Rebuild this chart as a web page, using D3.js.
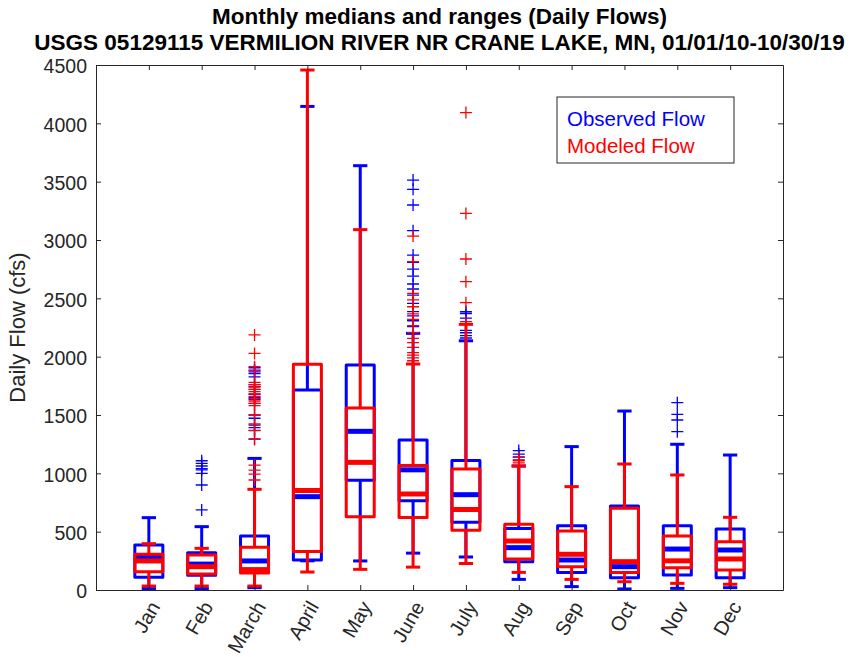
<!DOCTYPE html>
<html>
<head>
<meta charset="utf-8">
<script src="https://cdn.jsdelivr.net/npm/d3@7/dist/d3.min.js"></script>
<style>
  html, body { margin: 0; padding: 0; background: #fff; }
  svg { display: block; font-family: "Liberation Sans", Arial, Helvetica, sans-serif; }
</style>
</head>
<body>
<svg id="chart" width="860" height="657"></svg>
<script>
// Month categories
const months = ["Jan", "Feb", "March", "April", "May", "June", "July", "Aug", "Sep", "Oct", "Nov", "Dec"];

// Observed flow box statistics (cfs)
const obsLow    = [12, 12, 20, 250, 249, 316, 283, 91, 29, 9, 14, 20];
const obsQ1     = [109, 127, 160, 257, 941, 764, 581, 243, 149, 106, 129, 106];
const obsMedian = [280, 222, 249, 800, 1360, 1030, 817, 363, 257, 200, 351, 343];
const obsQ3     = [386, 320, 462, 1714, 1929, 1286, 1109, 528, 551, 720, 551, 523];
const obsHigh   = [620, 543, 1128, 4145, 3637, 2200, 2136, 1063, 1229, 1534, 1249, 1157];
const obsOutliers = [
  [],
  [1108, 1086, 1063, 1040, 1029, 1000, 900, 686],
  [1905, 1885, 1870, 1855, 1826, 1760, 1743, 1720, 1678, 1650, 1634, 1600, 1500, 1472, 1413, 1391, 1369, 1295],
  [],
  [],
  [3514, 3434, 3300, 3080, 2871, 2808, 2750, 2691, 2623, 2580, 2528, 2457, 2386, 2350, 2308, 2257],
  [2385, 2370, 2330, 2225, 2205, 2180, 2160],
  [1195, 1165, 1140, 1115],
  [],
  [],
  [1606, 1506, 1457, 1357],
  []
];

// Modeled flow box statistics (cfs)
const modLow    = [34, 34, 34, 154, 177, 196, 227, 151, 91, 71, 57, 49];
const modQ1     = [157, 137, 145, 329, 628, 622, 513, 266, 200, 149, 190, 171];
const modMedian = [249, 200, 175, 853, 1094, 823, 690, 420, 306, 243, 250, 266];
const modQ3     = [306, 300, 366, 1935, 1561, 1068, 1038, 563, 506, 700, 463, 414];
const modHigh   = [397, 357, 863, 4457, 3089, 1937, 2277, 1063, 886, 1080, 986, 623];
const modOutliers = [
  [],
  [],
  [2186, 2028, 1914, 1880, 1780, 1760, 1740, 1720, 1700, 1680, 1660, 1640, 1620, 1600, 1580, 1500, 1423, 1366, 1291, 1071, 1028, 994, 943],
  [],
  [],
  [3034, 2814, 2543, 2486, 2428, 2366, 2320, 2266, 2206, 2157, 2120, 2080, 2034, 2014, 1990, 1965],
  [4092, 3228, 2837, 2643, 2463, 2300],
  [1137, 1108, 1090],
  [],
  [],
  [],
  []
];

// Axis ticks
const yTicks = [0, 500, 1000, 1500, 2000, 2500, 3000, 3500, 4000, 4500];

const svg = d3.select("#chart");
const plotLeft = 96, plotRight = 783, plotTop = 65, plotBottom = 590;
const axisColor = "#262626";

const x = d3.scaleLinear().domain([0, months.length + 1]).range([plotLeft, plotRight]);
const y = d3.scaleLinear().domain([0, 4500]).range([plotBottom, plotTop]);

const step = x(1) - x(0);
const boxHalf = step * 0.265;
const capHalf = step * 0.135;

// Titles
svg.append("text").attr("x", (plotLeft + plotRight) / 2).attr("y", 24)
  .attr("text-anchor", "middle").attr("font-weight", "bold").attr("font-size", 22.5)
  .attr("fill", "#000").text("Monthly medians and ranges (Daily Flows)");
svg.append("text").attr("x", (plotLeft + plotRight) / 2).attr("y", 50)
  .attr("text-anchor", "middle").attr("font-weight", "bold").attr("font-size", 22.5)
  .attr("fill", "#000").text("USGS 05129115 VERMILION RIVER NR CRANE LAKE, MN, 01/01/10-10/30/19");

// Plot frame background
svg.append("rect").attr("x", plotLeft).attr("y", plotTop)
  .attr("width", plotRight - plotLeft).attr("height", plotBottom - plotTop)
  .attr("fill", "#fff");

// Boxes
function drawSeries(color, low, q1, med, q3, high, outliers) {
  const g = svg.append("g");
  months.forEach((m, i) => {
    const cx = x(i + 1);
    // whiskers
    g.append("line").attr("x1", cx).attr("x2", cx).attr("y1", y(q3[i])).attr("y2", y(high[i]))
      .attr("stroke", color).attr("stroke-width", 3);
    g.append("line").attr("x1", cx).attr("x2", cx).attr("y1", y(q1[i])).attr("y2", y(low[i]))
      .attr("stroke", color).attr("stroke-width", 3);
    // caps
    [high[i], low[i]].forEach(v => {
      g.append("line").attr("x1", cx - capHalf).attr("x2", cx + capHalf).attr("y1", y(v)).attr("y2", y(v))
        .attr("stroke", color).attr("stroke-width", 3);
    });
    // box
    g.append("rect").attr("x", cx - boxHalf).attr("y", y(q3[i]))
      .attr("width", boxHalf * 2).attr("height", y(q1[i]) - y(q3[i]))
      .attr("fill", "none").attr("stroke", color).attr("stroke-width", 3)
      .attr("stroke-linejoin", "round");
    // median
    g.append("line").attr("x1", cx - boxHalf).attr("x2", cx + boxHalf).attr("y1", y(med[i])).attr("y2", y(med[i]))
      .attr("stroke", color).attr("stroke-width", 5);
    // outliers
    outliers[i].forEach(v => {
      const py = y(v);
      g.append("path").attr("d", `M${cx - 6},${py}H${cx + 6}M${cx},${py - 6}V${py + 6}`)
        .attr("stroke", color).attr("stroke-width", 1.3).attr("fill", "none");
    });
  });
}
drawSeries("#0000ff", obsLow, obsQ1, obsMedian, obsQ3, obsHigh, obsOutliers);
drawSeries("#ff0000", modLow, modQ1, modMedian, modQ3, modHigh, modOutliers);

// Axes
const monthTicks = months.map((m, i) => i + 1);
const axL = svg.append("g").attr("transform", `translate(${plotLeft},0)`)
  .call(d3.axisLeft(y).tickValues(yTicks).tickFormat(d3.format("d"))
    .tickSize(-5).tickPadding(9).tickSizeOuter(0));
const axR = svg.append("g").attr("transform", `translate(${plotRight},0)`)
  .call(d3.axisRight(y).tickValues(yTicks).tickSize(-5).tickFormat("").tickSizeOuter(0));
const axB = svg.append("g").attr("transform", `translate(0,${plotBottom})`)
  .call(d3.axisBottom(x).tickValues(monthTicks).tickSize(-5).tickFormat("").tickSizeOuter(0));
const axT = svg.append("g").attr("transform", `translate(0,${plotTop})`)
  .call(d3.axisTop(x).tickValues(monthTicks).tickSize(-5).tickFormat("").tickSizeOuter(0));
[axL, axR, axB, axT].forEach(a => {
  a.select(".domain").attr("stroke", axisColor);
  a.selectAll(".tick line").attr("stroke", axisColor);
});
axL.selectAll(".tick text").attr("font-size", 19.5).attr("fill", axisColor).attr("dy", "0.4em")
  .attr("font-family", "Liberation Sans, Arial, sans-serif");

// Month labels, rotated
svg.append("g").selectAll("text").data(months).join("text")
  .attr("transform", (d, i) => `translate(${x(i + 1) + 6},${plotBottom + 13}) rotate(-60)`)
  .attr("text-anchor", "end").attr("dominant-baseline", "central")
  .attr("font-size", 20).attr("fill", axisColor).text(d => d);

// Y axis label
svg.append("text").attr("transform", `translate(25,${(plotTop + plotBottom) / 2}) rotate(-90)`)
  .attr("text-anchor", "middle").attr("font-size", 22).attr("fill", axisColor)
  .text("Daily Flow (cfs)");

// Legend
const lg = svg.append("g");
lg.append("rect").attr("x", 557).attr("y", 97).attr("width", 177).attr("height", 66)
  .attr("fill", "#fff").attr("stroke", axisColor).attr("stroke-width", 1);
lg.append("text").attr("x", 567).attr("y", 126).attr("font-size", 20.5).attr("fill", "#0000ff").text("Observed Flow");
lg.append("text").attr("x", 567).attr("y", 153).attr("font-size", 20.5).attr("fill", "#ff0000").text("Modeled Flow");
</script>
</body>
</html>
